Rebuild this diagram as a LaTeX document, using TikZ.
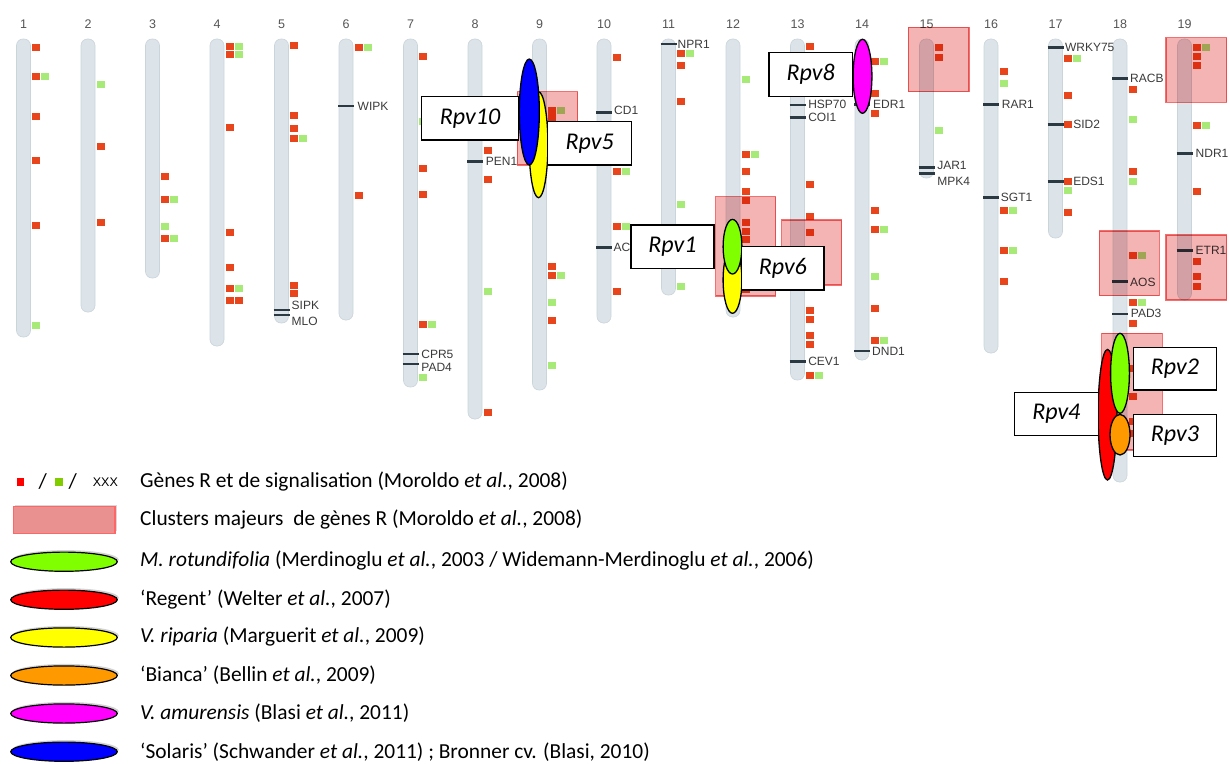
\documentclass[tikz,border=0pt]{standalone}
\usepackage{fontspec}
\setmainfont{Carlito}
\newfontfamily\arialf{Liberation Sans}
\usetikzlibrary{shadows}
\definecolor{chrfill}{HTML}{DCE4EA}
\definecolor{chredge}{HTML}{CAD4DB}
\definecolor{mred}{HTML}{E8451C}
\definecolor{mgreen}{HTML}{A8EA78}
\definecolor{clusfill}{HTML}{F4B4B4}
\definecolor{clusedge}{HTML}{F27070}
\definecolor{tickc}{HTML}{2B3A42}
\definecolor{labc}{HTML}{3A3A3A}
\definecolor{numc}{HTML}{555555}
\definecolor{rgreen}{RGB}{128,255,0}
\definecolor{rorange}{RGB}{255,153,0}
\definecolor{ryellow}{RGB}{255,255,0}
\definecolor{rmagenta}{RGB}{255,0,255}
\definecolor{rblue}{RGB}{0,0,255}
\definecolor{rred}{RGB}{255,0,0}
\definecolor{legrect}{HTML}{E99191}
\definecolor{legedge}{HTML}{FF6666}
\definecolor{leggreen}{HTML}{80CC00}
\tikzset{
  chrom/.style={fill=chrfill,draw=chredge,line width=0.6},
  numlab/.style={font=\arialf\fontsize{12.5}{14}\selectfont,text=numc,inner sep=0},
  glabel/.style={font=\arialf\fontsize{12}{14}\selectfont,text=labc,inner sep=0,anchor=west},
  tickline/.style={draw=tickc,line width=2.6},
  clusbox/.style={fill=clusfill,draw=clusedge,line width=1.1},
  rpv/.style={draw=black,line width=1.3},
  rpvbox/.style={draw=black,line width=1.3,fill=white,inner sep=0,
     font=\fontsize{24}{28}\selectfont\itshape},
  legtext/.style={font=\fontsize{21.4}{24}\selectfont,anchor=west,inner sep=0},
  legell/.style={draw=black,line width=1.2,drop shadow={shadow xshift=1.5,shadow yshift=-2,opacity=0.35}},
}
\newcommand\chrx[1]{(23.5+(#1-1)*64.5)}
\newcommand\chrom[2]{%
  \filldraw[chrom,rounded corners=6.5] ({\chrx{#1}-7},39) rectangle ({\chrx{#1}+7},#2);
  \node[numlab] (n#1) at ({\chrx{#1}},24) {#1};}
\newcommand\Rm[3]{\fill[mred] ({\chrx{#1}+12.5+(#3-1)*9.3-4},{#2-3.5}) rectangle ++(8,7);}
\newcommand\Gm[3]{\fill[mgreen] ({\chrx{#1}+12.5+(#3-1)*9.3-4},{#2-3.5}) rectangle ++(8,7);}
\newcommand\RG[2]{\Rm{#1}{#2}{1}\Gm{#1}{#2}{2}}
\newcommand\tk[2]{\draw[tickline] ({\chrx{#1}-8},#2) -- ({\chrx{#1}+8},#2);}
\newcommand\gl[5]{\node[glabel] (#5) at ({\chrx{#1}+#3},#2) {#4};}
\begin{document}
\begin{tikzpicture}[x=1pt,y=-1pt]
\useasboundingbox (0,0) rectangle (1230,763);
% chromosomes
\chrom{1}{337}\chrom{2}{312}\chrom{3}{278}\chrom{4}{346}\chrom{5}{323}
\chrom{6}{320}\chrom{7}{387}\chrom{8}{419}\chrom{9}{390}\chrom{10}{323}
\chrom{11}{295}\chrom{12}{317}\chrom{13}{380}\chrom{14}{360}\chrom{15}{178}
\chrom{16}{353}\chrom{17}{238}\chrom{18}{482}\chrom{19}{300}
% markers chr1
\Rm{1}{47.3}{1}\RG{1}{76.7}\Rm{1}{116.7}{1}\Rm{1}{160}{1}\Rm{1}{225.7}{1}\Gm{1}{325}{1}
% chr2
\Gm{2}{84.3}{1}\Rm{2}{146.7}{1}\Rm{2}{222.7}{1}
% chr3
\Rm{3}{176}{1}\RG{3}{199.3}\Gm{3}{226.7}{1}\RG{3}{238.3}
% chr4
\RG{4}{46.7}\RG{4}{54}\Rm{4}{127.7}{1}\Rm{4}{232.3}{1}\Rm{4}{267.3}{1}\RG{4}{288.3}\Rm{4}{300}{1}\Rm{4}{300}{2}
% chr5
\Rm{5}{45}{1}\Rm{5}{115.7}{1}\Rm{5}{128.3}{1}\RG{5}{138.3}\Rm{5}{285}{1}\Rm{5}{293.3}{1}
\tk{5}{310}\tk{5}{315}
\gl{5}{305.5}{10}{SIPK}{SIPK}\gl{5}{321.5}{10}{MLO}{MLO}
% chr6
\RG{6}{47.3}\Rm{6}{195}{1}
\tk{6}{106}\gl{6}{106}{11.5}{WIPK}{WIPK}
% chr7
\Rm{7}{56}{1}\Gm{7}{121.7}{1}\Rm{7}{168.3}{1}\Rm{7}{194}{1}\RG{7}{324}\Gm{7}{377.7}{1}
\tk{7}{354}\tk{7}{364}
\gl{7}{354}{10.7}{CPR5}{CPR5}\gl{7}{367}{10.7}{PAD4}{PAD4}
% chr8
\Rm{8}{150}{1}\Rm{8}{179}{1}\Gm{8}{291}{1}\Rm{8}{412}{1}
\tk{8}{161.7}\gl{8}{161.7}{10.7}{PEN1}{PEN1}
% chr9
\RG{9}{110}\Rm{9}{117.3}{1}\Rm{9}{266.7}{1}\RG{9}{275}\Gm{9}{302.3}{1}\Rm{9}{320.7}{1}\Gm{9}{365}{1}
% chr10
\Rm{10}{57.3}{1}\RG{10}{171.7}\RG{10}{226.7}\Rm{10}{291.7}{1}
\tk{10}{112.3}\gl{10}{110}{10}{CD1}{CD1}
\tk{10}{247.3}\gl{10}{247.3}{9.3}{AC}{AC}
% chr11
\RG{11}{53.3}\Rm{11}{65.7}{1}\Rm{11}{101}{1}\Gm{11}{204}{1}\Gm{11}{286}{1}
\tk{11}{44}\gl{11}{44}{9}{NPR1}{NPR1}
% chr12
\Gm{12}{79.3}{1}\RG{12}{154}\Rm{12}{171}{1}\Rm{12}{191.7}{1}\Rm{12}{200.7}{1}\Rm{12}{222.3}{1}\Rm{12}{231}{1}\Rm{12}{239}{1}\Rm{12}{289}{1}
% chr13
\Rm{13}{46.7}{1}\Rm{13}{184}{1}\Rm{13}{216}{1}\Rm{13}{232.3}{1}\Rm{13}{310}{1}\Rm{13}{319.3}{1}\Rm{13}{335}{1}\Rm{13}{344.3}{1}\RG{13}{375}
\tk{13}{105}\tk{13}{117.3}\tk{13}{361.7}
\gl{13}{104.5}{10.6}{HSP70}{HSP70}\gl{13}{117}{10.6}{COI1}{COI1}\gl{13}{361.7}{10.6}{CEV1}{CEV1}
% chr14
\RG{14}{61.7}\Rm{14}{93.3}{1}\Rm{14}{113.3}{1}\Rm{14}{210.7}{1}\RG{14}{229}\Gm{14}{276.7}{1}\Rm{14}{308.3}{1}\RG{14}{340}
\tk{14}{104.3}\tk{14}{351}
\gl{14}{104.3}{11}{EDR1}{EDR1}\gl{14}{351}{10}{DND1}{DND1}
% chr15
\Rm{15}{47.3}{1}\Rm{15}{57.3}{1}\Gm{15}{130}{1}
\tk{15}{167.7}\tk{15}{173.3}
\gl{15}{165.7}{10.6}{JAR1}{JAR1}\gl{15}{181.5}{10.6}{MPK4}{MPK4}
% chr16
\Rm{16}{71}{1}\Gm{16}{83.3}{1}\RG{16}{210}\RG{16}{250.7}\Rm{16}{281}{1}
\tk{16}{104.3}\tk{16}{197.7}
\gl{16}{104.3}{10.7}{RAR1}{RAR1}\gl{16}{197.7}{9.7}{SGT1}{SGT1}
% chr17
\RG{17}{58.3}\Rm{17}{95}{1}\Rm{17}{124.3}{1}\Rm{17}{181.7}{1}\Gm{17}{190}{1}\Rm{17}{212.7}{1}
\tk{17}{47.7}\tk{17}{124.3}\tk{17}{181.7}
\gl{17}{47.7}{9.3}{WRKY75}{WRKY75}\gl{17}{124.3}{17.6}{SID2}{SID2}\gl{17}{181.7}{17.6}{EDS1}{EDS1}
% chr18
\Rm{18}{89.3}{1}\Gm{18}{119}{1}\Rm{18}{171.7}{1}\Gm{18}{181.7}{1}\RG{18}{255}\RG{18}{302.7}\Rm{18}{323.3}{1}
\Rm{18}{368}{1}\Rm{18}{396.7}{1}\Rm{18}{421.7}{1}\Rm{18}{433}{1}
\tk{18}{78.3}\tk{18}{281.7}\tk{18}{314}
\gl{18}{78.3}{10}{RACB}{RACB}\gl{18}{282.7}{10}{AOS}{AOS}\gl{18}{313.3}{10.7}{PAD3}{PAD3}
% chr19
\RG{19}{47.3}\Rm{19}{56.7}{1}\Rm{19}{65}{1}\RG{19}{125}\Rm{19}{191.7}{1}\Rm{19}{261.7}{1}\Rm{19}{276.7}{1}\Rm{19}{286}{1}
\tk{19}{153.3}\tk{19}{250.7}
\gl{19}{153.3}{11}{NDR1}{NDR1}\gl{19}{250.7}{11}{ETR1}{ETR1}
% clusters
\begin{scope}[blend mode=multiply]
\filldraw[clusbox] (517.3,91.7) rectangle (577.7,165);
\filldraw[clusbox] (715.7,196.7) rectangle (775.7,296);
\filldraw[clusbox] (781.7,220) rectangle (841.7,285);
\filldraw[clusbox] (908.3,27.3) rectangle (969,91.7);
\filldraw[clusbox] (1099.3,231) rectangle (1159.3,295.7);
\filldraw[clusbox] (1101.7,333.3) rectangle (1162.3,450);
\filldraw[clusbox] (1166,37.7) rectangle (1226.7,102.3);
\filldraw[clusbox] (1166,235) rectangle (1226.7,300);
\end{scope}
% resistance loci
\filldraw[rpv,fill=ryellow] (538.5,144.7) ellipse [x radius=9.4,y radius=53];
\filldraw[rpv,fill=rblue] (529.3,112) ellipse [x radius=10,y radius=53];
\node[rpvbox,minimum width=96.6,minimum height=43.3] (rpv10) at (470,118.3) {Rpv10};
\node[rpvbox,minimum width=84,minimum height=43.3] (rpv5) at (589.7,143.3) {Rpv5};
\filldraw[rpv,fill=rmagenta] (862.5,76.3) ellipse [x radius=9.4,y radius=37];
\node[rpvbox,minimum width=83.3,minimum height=44] (rpv8) at (810.7,74.7) {Rpv8};
\filldraw[rpv,fill=ryellow] (732.5,280) ellipse [x radius=9.4,y radius=33.3];
\filldraw[rpv,fill=rgreen] (732.5,246.7) ellipse [x radius=9.4,y radius=27.3];
\node[rpvbox,minimum width=83,minimum height=43.3] (rpv1) at (672.5,246.7) {Rpv1};
\node[rpvbox,minimum width=82.3,minimum height=43.3] (rpv6) at (782.8,268.3) {Rpv6};
\filldraw[rpv,fill=rred] (1107.5,414.7) ellipse [x radius=9.4,y radius=65.3];
\filldraw[rpv,fill=rgreen] (1120,373.3) ellipse [x radius=9.4,y radius=40];
\filldraw[rpv,fill=rorange] (1120,434.7) ellipse [x radius=10,y radius=20.3];
\node[rpvbox,minimum width=83.4,minimum height=42.3] (rpv2) at (1175,368.8) {Rpv2};
\node[rpvbox,minimum width=83.4,minimum height=42.3] (rpv3) at (1175,435.5) {Rpv3};
\node[rpvbox,minimum width=84,minimum height=43] (rpv4) at (1056.3,414.2) {Rpv4};
% legend
\fill[rred] (17.3,477.7) rectangle (23.5,485.7);
\node[legtext] (sl1) at (38.5,481.7) {/};
\fill[leggreen] (55,477.7) rectangle (62.5,485.7);
\node[legtext] (sl2) at (68.5,481.7) {/};
\node[font=\arialf\fontsize{12.5}{14}\selectfont,inner sep=0,anchor=west] (xxx) at (92.7,482) {XXX};
\node[legtext] (l1) at (140,481.7) {Gènes R et de signalisation (Moroldo \textit{et al.}, 2008)};
\filldraw[fill=legrect,draw=legedge,line width=1.2,drop shadow={shadow xshift=1.5,shadow yshift=-2,opacity=0.3}] (13.3,506.7) rectangle (115,533.3);
\node[legtext] (l2) at (140,520) {Clusters majeurs\ \ de gènes R (Moroldo \textit{et al.}, 2008)};
\filldraw[legell,fill=rgreen] (64,561.7) ellipse [x radius=53.3,y radius=9.6];
\node[legtext] (l3) at (140,561) {\textit{M. rotundifolia} (Merdinoglu \textit{et al.}, 2003 / Widemann-Merdinoglu \textit{et al.}, 2006)};
\filldraw[legell,fill=rred] (64,599.7) ellipse [x radius=53.3,y radius=9.6];
\node[legtext] (l4) at (140,599.5) {‘Regent’ (Welter \textit{et al.}, 2007)};
\filldraw[legell,fill=ryellow] (64,637.5) ellipse [x radius=53.3,y radius=9.6];
\node[legtext] (l5) at (140,637) {\textit{V. riparia} (Marguerit \textit{et al.}, 2009)};
\filldraw[legell,fill=rorange] (64,675.5) ellipse [x radius=53.3,y radius=9.6];
\node[legtext] (l6) at (140,675.3) {‘Bianca’ (Bellin \textit{et al.}, 2009)};
\filldraw[legell,fill=rmagenta] (64,713.5) ellipse [x radius=53.3,y radius=9.6];
\node[legtext] (l7) at (140,713.3) {\textit{V. amurensis} (Blasi \textit{et al.}, 2011)};
\filldraw[legell,fill=rblue] (64,751.7) ellipse [x radius=53.3,y radius=9.6];
\node[legtext] (l8) at (140,751.7) {‘Solaris’ (Schwander \textit{et al.}, 2011) ; Bronner cv. (Blasi, 2010)};
\end{tikzpicture}
\end{document}
